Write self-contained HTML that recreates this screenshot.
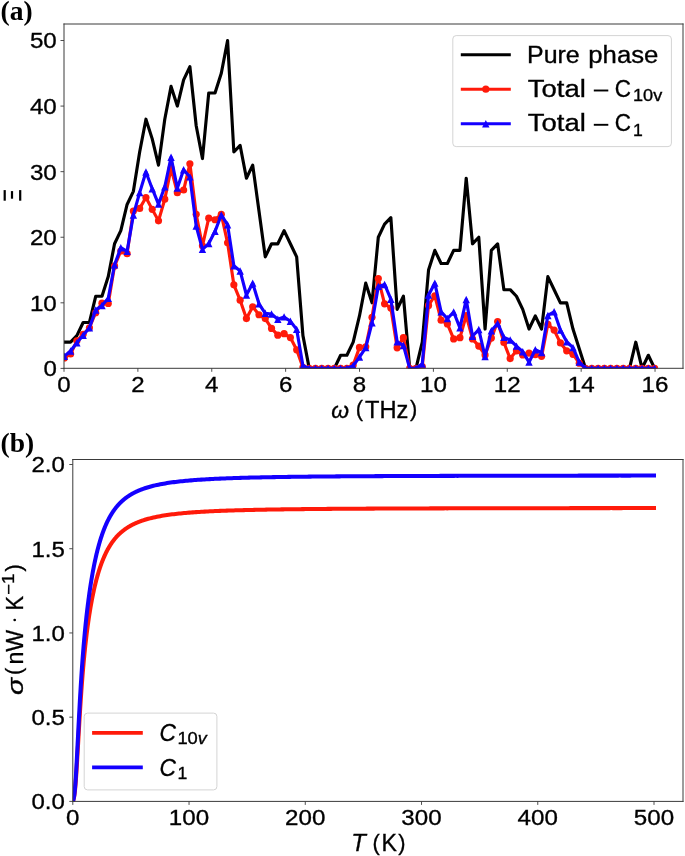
<!DOCTYPE html>
<html><head><meta charset="utf-8"><title>Figure</title>
<style>html,body{margin:0;padding:0;background:#fff;}body{width:685px;height:856px;overflow:hidden;font-family:"Liberation Sans",sans-serif;}svg{display:block;will-change:transform;}text.s{stroke:#000;stroke-width:0.32px;}</style>
</head><body>
<svg width="685" height="856" viewBox="0 0 685 856">
<rect width="685" height="856" fill="#fff"/>
<clipPath id="ca"><rect x="64.0" y="24.0" width="619.0" height="344.6"/></clipPath>
<g clip-path="url(#ca)">
<polyline points="64.30,342.17 70.58,342.17 76.86,335.61 83.14,322.49 89.42,322.49 95.70,296.26 101.98,296.26 108.26,276.59 114.54,243.80 120.82,230.68 127.10,204.45 133.38,191.33 139.66,151.99 145.94,119.20 152.22,138.87 158.50,165.10 164.78,119.20 171.06,86.41 177.34,106.08 183.62,79.85 189.90,66.73 196.18,125.75 202.46,158.54 208.74,92.96 215.02,92.96 221.30,73.29 227.58,40.50 233.86,151.99 240.14,145.43 246.42,178.22 252.70,165.10 258.98,211.01 265.26,256.91 271.54,243.80 277.82,243.80 284.10,230.68 290.38,243.80 296.66,256.91 302.94,335.61 309.22,368.40 315.50,368.40 321.78,368.40 328.06,368.40 334.34,368.40 340.62,355.28 346.90,355.28 353.18,342.17 359.46,315.94 365.74,283.15 372.02,302.82 378.30,237.24 384.58,224.12 390.86,217.57 397.14,309.38 403.42,296.26 409.70,368.40 415.98,368.40 422.26,342.17 428.54,270.03 434.82,250.36 441.10,263.47 447.38,263.47 453.66,250.36 459.94,250.36 466.22,178.22 472.50,243.80 478.78,237.24 485.06,329.05 491.34,250.36 497.62,243.80 503.90,289.70 510.18,289.70 516.46,296.26 522.74,309.38 529.02,329.05 535.30,315.94 541.58,329.05 547.86,276.59 554.14,289.70 560.42,302.82 566.70,302.82 572.98,329.05 579.26,348.73 585.54,368.40 591.82,368.40 598.10,368.40 604.38,368.40 610.66,368.40 616.94,368.40 623.22,368.40 629.50,368.40 635.78,342.17 642.06,368.40 648.34,355.28 654.62,368.40" fill="none" stroke="#000" stroke-width="3.15" stroke-linejoin="round" stroke-linecap="square" />
<polyline points="64.30,357.91 70.58,353.97 76.86,340.86 83.14,334.30 89.42,327.74 95.70,312.66 101.98,303.15 108.26,303.48 114.54,266.10 120.82,251.01 127.10,253.63 133.38,211.01 139.66,208.38 145.94,197.56 152.22,209.37 158.50,220.84 164.78,199.20 171.06,168.38 177.34,192.65 183.62,190.02 189.90,163.79 196.18,214.29 202.46,245.77 208.74,218.22 215.02,219.73 221.30,214.29 227.58,242.81 233.86,284.79 240.14,300.20 246.42,318.56 252.70,306.75 258.98,314.76 265.26,318.56 271.54,328.40 277.82,335.15 284.10,333.64 290.38,337.58 296.66,349.78 302.94,367.42 309.22,368.40 315.50,368.40 321.78,368.40 328.06,368.40 334.34,368.40 340.62,368.40 346.90,368.40 353.18,365.12 359.46,347.41 365.74,346.76 372.02,317.25 378.30,278.56 384.58,303.80 390.86,308.07 397.14,347.87 403.42,337.64 409.70,368.40 415.98,368.40 422.26,366.56 428.54,305.44 434.82,295.74 441.10,320.13 447.38,323.94 453.66,338.89 459.94,337.64 466.22,315.48 472.50,338.89 478.78,346.10 485.06,354.96 491.34,338.10 497.62,321.58 503.90,342.50 510.18,358.56 516.46,350.82 522.74,354.89 529.02,353.12 535.30,354.63 541.58,356.33 547.86,324.26 554.14,330.10 560.42,342.95 566.70,350.82 572.98,354.30 579.26,363.15 585.54,368.40 591.82,368.40 598.10,368.40 604.38,368.40 610.66,368.40 616.94,368.40 623.22,368.40 629.50,368.40 635.78,368.40 642.06,368.40 648.34,368.40 654.62,368.40" fill="none" stroke="#ff1a0a" stroke-width="3.15" stroke-linejoin="round" stroke-linecap="square" />
<circle cx="64.30" cy="357.91" r="3.6" fill="#ff1a0a"/>
<circle cx="70.58" cy="353.97" r="3.6" fill="#ff1a0a"/>
<circle cx="76.86" cy="340.86" r="3.6" fill="#ff1a0a"/>
<circle cx="83.14" cy="334.30" r="3.6" fill="#ff1a0a"/>
<circle cx="89.42" cy="327.74" r="3.6" fill="#ff1a0a"/>
<circle cx="95.70" cy="312.66" r="3.6" fill="#ff1a0a"/>
<circle cx="101.98" cy="303.15" r="3.6" fill="#ff1a0a"/>
<circle cx="108.26" cy="303.48" r="3.6" fill="#ff1a0a"/>
<circle cx="114.54" cy="266.10" r="3.6" fill="#ff1a0a"/>
<circle cx="120.82" cy="251.01" r="3.6" fill="#ff1a0a"/>
<circle cx="127.10" cy="253.63" r="3.6" fill="#ff1a0a"/>
<circle cx="133.38" cy="211.01" r="3.6" fill="#ff1a0a"/>
<circle cx="139.66" cy="208.38" r="3.6" fill="#ff1a0a"/>
<circle cx="145.94" cy="197.56" r="3.6" fill="#ff1a0a"/>
<circle cx="152.22" cy="209.37" r="3.6" fill="#ff1a0a"/>
<circle cx="158.50" cy="220.84" r="3.6" fill="#ff1a0a"/>
<circle cx="164.78" cy="199.20" r="3.6" fill="#ff1a0a"/>
<circle cx="171.06" cy="168.38" r="3.6" fill="#ff1a0a"/>
<circle cx="177.34" cy="192.65" r="3.6" fill="#ff1a0a"/>
<circle cx="183.62" cy="190.02" r="3.6" fill="#ff1a0a"/>
<circle cx="189.90" cy="163.79" r="3.6" fill="#ff1a0a"/>
<circle cx="196.18" cy="214.29" r="3.6" fill="#ff1a0a"/>
<circle cx="202.46" cy="245.77" r="3.6" fill="#ff1a0a"/>
<circle cx="208.74" cy="218.22" r="3.6" fill="#ff1a0a"/>
<circle cx="215.02" cy="219.73" r="3.6" fill="#ff1a0a"/>
<circle cx="221.30" cy="214.29" r="3.6" fill="#ff1a0a"/>
<circle cx="227.58" cy="242.81" r="3.6" fill="#ff1a0a"/>
<circle cx="233.86" cy="284.79" r="3.6" fill="#ff1a0a"/>
<circle cx="240.14" cy="300.20" r="3.6" fill="#ff1a0a"/>
<circle cx="246.42" cy="318.56" r="3.6" fill="#ff1a0a"/>
<circle cx="252.70" cy="306.75" r="3.6" fill="#ff1a0a"/>
<circle cx="258.98" cy="314.76" r="3.6" fill="#ff1a0a"/>
<circle cx="265.26" cy="318.56" r="3.6" fill="#ff1a0a"/>
<circle cx="271.54" cy="328.40" r="3.6" fill="#ff1a0a"/>
<circle cx="277.82" cy="335.15" r="3.6" fill="#ff1a0a"/>
<circle cx="284.10" cy="333.64" r="3.6" fill="#ff1a0a"/>
<circle cx="290.38" cy="337.58" r="3.6" fill="#ff1a0a"/>
<circle cx="296.66" cy="349.78" r="3.6" fill="#ff1a0a"/>
<circle cx="302.94" cy="367.42" r="3.6" fill="#ff1a0a"/>
<circle cx="309.22" cy="368.40" r="3.6" fill="#ff1a0a"/>
<circle cx="315.50" cy="368.40" r="3.6" fill="#ff1a0a"/>
<circle cx="321.78" cy="368.40" r="3.6" fill="#ff1a0a"/>
<circle cx="328.06" cy="368.40" r="3.6" fill="#ff1a0a"/>
<circle cx="334.34" cy="368.40" r="3.6" fill="#ff1a0a"/>
<circle cx="340.62" cy="368.40" r="3.6" fill="#ff1a0a"/>
<circle cx="346.90" cy="368.40" r="3.6" fill="#ff1a0a"/>
<circle cx="353.18" cy="365.12" r="3.6" fill="#ff1a0a"/>
<circle cx="359.46" cy="347.41" r="3.6" fill="#ff1a0a"/>
<circle cx="365.74" cy="346.76" r="3.6" fill="#ff1a0a"/>
<circle cx="372.02" cy="317.25" r="3.6" fill="#ff1a0a"/>
<circle cx="378.30" cy="278.56" r="3.6" fill="#ff1a0a"/>
<circle cx="384.58" cy="303.80" r="3.6" fill="#ff1a0a"/>
<circle cx="390.86" cy="308.07" r="3.6" fill="#ff1a0a"/>
<circle cx="397.14" cy="347.87" r="3.6" fill="#ff1a0a"/>
<circle cx="403.42" cy="337.64" r="3.6" fill="#ff1a0a"/>
<circle cx="409.70" cy="368.40" r="3.6" fill="#ff1a0a"/>
<circle cx="415.98" cy="368.40" r="3.6" fill="#ff1a0a"/>
<circle cx="422.26" cy="366.56" r="3.6" fill="#ff1a0a"/>
<circle cx="428.54" cy="305.44" r="3.6" fill="#ff1a0a"/>
<circle cx="434.82" cy="295.74" r="3.6" fill="#ff1a0a"/>
<circle cx="441.10" cy="320.13" r="3.6" fill="#ff1a0a"/>
<circle cx="447.38" cy="323.94" r="3.6" fill="#ff1a0a"/>
<circle cx="453.66" cy="338.89" r="3.6" fill="#ff1a0a"/>
<circle cx="459.94" cy="337.64" r="3.6" fill="#ff1a0a"/>
<circle cx="466.22" cy="315.48" r="3.6" fill="#ff1a0a"/>
<circle cx="472.50" cy="338.89" r="3.6" fill="#ff1a0a"/>
<circle cx="478.78" cy="346.10" r="3.6" fill="#ff1a0a"/>
<circle cx="485.06" cy="354.96" r="3.6" fill="#ff1a0a"/>
<circle cx="491.34" cy="338.10" r="3.6" fill="#ff1a0a"/>
<circle cx="497.62" cy="321.58" r="3.6" fill="#ff1a0a"/>
<circle cx="503.90" cy="342.50" r="3.6" fill="#ff1a0a"/>
<circle cx="510.18" cy="358.56" r="3.6" fill="#ff1a0a"/>
<circle cx="516.46" cy="350.82" r="3.6" fill="#ff1a0a"/>
<circle cx="522.74" cy="354.89" r="3.6" fill="#ff1a0a"/>
<circle cx="529.02" cy="353.12" r="3.6" fill="#ff1a0a"/>
<circle cx="535.30" cy="354.63" r="3.6" fill="#ff1a0a"/>
<circle cx="541.58" cy="356.33" r="3.6" fill="#ff1a0a"/>
<circle cx="547.86" cy="324.26" r="3.6" fill="#ff1a0a"/>
<circle cx="554.14" cy="330.10" r="3.6" fill="#ff1a0a"/>
<circle cx="560.42" cy="342.95" r="3.6" fill="#ff1a0a"/>
<circle cx="566.70" cy="350.82" r="3.6" fill="#ff1a0a"/>
<circle cx="572.98" cy="354.30" r="3.6" fill="#ff1a0a"/>
<circle cx="579.26" cy="363.15" r="3.6" fill="#ff1a0a"/>
<circle cx="585.54" cy="368.40" r="3.6" fill="#ff1a0a"/>
<circle cx="591.82" cy="368.40" r="3.6" fill="#ff1a0a"/>
<circle cx="598.10" cy="368.40" r="3.6" fill="#ff1a0a"/>
<circle cx="604.38" cy="368.40" r="3.6" fill="#ff1a0a"/>
<circle cx="610.66" cy="368.40" r="3.6" fill="#ff1a0a"/>
<circle cx="616.94" cy="368.40" r="3.6" fill="#ff1a0a"/>
<circle cx="623.22" cy="368.40" r="3.6" fill="#ff1a0a"/>
<circle cx="629.50" cy="368.40" r="3.6" fill="#ff1a0a"/>
<circle cx="635.78" cy="368.40" r="3.6" fill="#ff1a0a"/>
<circle cx="642.06" cy="368.40" r="3.6" fill="#ff1a0a"/>
<circle cx="648.34" cy="368.40" r="3.6" fill="#ff1a0a"/>
<circle cx="654.62" cy="368.40" r="3.6" fill="#ff1a0a"/>
<polyline points="64.30,356.27 70.58,351.02 76.86,342.82 83.14,335.22 89.42,327.74 95.70,310.03 101.98,305.44 108.26,298.23 114.54,264.78 120.82,247.73 127.10,251.34 133.38,214.94 139.66,192.65 145.94,171.99 152.22,188.71 158.50,204.12 164.78,186.74 171.06,157.23 177.34,188.05 183.62,169.69 189.90,176.91 196.18,226.09 202.46,249.37 208.74,243.54 215.02,231.34 221.30,214.94 227.58,224.78 233.86,265.83 240.14,270.95 246.42,295.02 252.70,283.15 258.98,303.80 265.26,313.31 271.54,313.97 277.82,319.21 284.10,316.92 290.38,321.31 296.66,329.38 302.94,365.78 309.22,368.40 315.50,368.40 321.78,368.40 328.06,368.40 334.34,368.40 340.62,368.40 346.90,368.40 353.18,365.78 359.46,357.05 365.74,347.61 372.02,322.76 378.30,286.42 384.58,284.46 390.86,299.21 397.14,341.77 403.42,345.45 409.70,368.40 415.98,368.40 422.26,363.94 428.54,295.02 434.82,283.15 441.10,311.80 447.38,318.56 453.66,312.00 459.94,327.87 466.22,299.54 472.50,336.27 478.78,329.51 485.06,356.60 491.34,330.82 497.62,323.48 503.90,337.38 510.18,340.00 516.46,346.10 522.74,351.68 529.02,362.17 535.30,349.78 541.58,352.66 547.86,315.48 554.14,311.80 560.42,330.10 566.70,341.77 572.98,347.61 579.26,362.17 585.54,368.40 591.82,368.40 598.10,368.40 604.38,368.40 610.66,368.40 616.94,368.40 623.22,368.40 629.50,368.40 635.78,368.40 642.06,368.40 648.34,368.40 654.62,368.40" fill="none" stroke="#1400ff" stroke-width="3.15" stroke-linejoin="round" stroke-linecap="square" />
<path d="M64.30,352.57 L60.60,359.97 L68.00,359.97 Z" fill="#1400ff"/>
<path d="M70.58,347.32 L66.88,354.72 L74.28,354.72 Z" fill="#1400ff"/>
<path d="M76.86,339.12 L73.16,346.52 L80.56,346.52 Z" fill="#1400ff"/>
<path d="M83.14,331.52 L79.44,338.92 L86.84,338.92 Z" fill="#1400ff"/>
<path d="M89.42,324.04 L85.72,331.44 L93.12,331.44 Z" fill="#1400ff"/>
<path d="M95.70,306.33 L92.00,313.73 L99.40,313.73 Z" fill="#1400ff"/>
<path d="M101.98,301.74 L98.28,309.14 L105.68,309.14 Z" fill="#1400ff"/>
<path d="M108.26,294.53 L104.56,301.93 L111.96,301.93 Z" fill="#1400ff"/>
<path d="M114.54,261.08 L110.84,268.48 L118.24,268.48 Z" fill="#1400ff"/>
<path d="M120.82,244.03 L117.12,251.43 L124.52,251.43 Z" fill="#1400ff"/>
<path d="M127.10,247.64 L123.40,255.04 L130.80,255.04 Z" fill="#1400ff"/>
<path d="M133.38,211.24 L129.68,218.64 L137.08,218.64 Z" fill="#1400ff"/>
<path d="M139.66,188.95 L135.96,196.35 L143.36,196.35 Z" fill="#1400ff"/>
<path d="M145.94,168.29 L142.24,175.69 L149.64,175.69 Z" fill="#1400ff"/>
<path d="M152.22,185.01 L148.52,192.41 L155.92,192.41 Z" fill="#1400ff"/>
<path d="M158.50,200.42 L154.80,207.82 L162.20,207.82 Z" fill="#1400ff"/>
<path d="M164.78,183.04 L161.08,190.44 L168.48,190.44 Z" fill="#1400ff"/>
<path d="M171.06,153.53 L167.36,160.93 L174.76,160.93 Z" fill="#1400ff"/>
<path d="M177.34,184.35 L173.64,191.75 L181.04,191.75 Z" fill="#1400ff"/>
<path d="M183.62,165.99 L179.92,173.39 L187.32,173.39 Z" fill="#1400ff"/>
<path d="M189.90,173.21 L186.20,180.61 L193.60,180.61 Z" fill="#1400ff"/>
<path d="M196.18,222.39 L192.48,229.79 L199.88,229.79 Z" fill="#1400ff"/>
<path d="M202.46,245.67 L198.76,253.07 L206.16,253.07 Z" fill="#1400ff"/>
<path d="M208.74,239.84 L205.04,247.24 L212.44,247.24 Z" fill="#1400ff"/>
<path d="M215.02,227.64 L211.32,235.04 L218.72,235.04 Z" fill="#1400ff"/>
<path d="M221.30,211.24 L217.60,218.64 L225.00,218.64 Z" fill="#1400ff"/>
<path d="M227.58,221.08 L223.88,228.48 L231.28,228.48 Z" fill="#1400ff"/>
<path d="M233.86,262.13 L230.16,269.53 L237.56,269.53 Z" fill="#1400ff"/>
<path d="M240.14,267.25 L236.44,274.65 L243.84,274.65 Z" fill="#1400ff"/>
<path d="M246.42,291.32 L242.72,298.72 L250.12,298.72 Z" fill="#1400ff"/>
<path d="M252.70,279.45 L249.00,286.85 L256.40,286.85 Z" fill="#1400ff"/>
<path d="M258.98,300.10 L255.28,307.50 L262.68,307.50 Z" fill="#1400ff"/>
<path d="M265.26,309.61 L261.56,317.01 L268.96,317.01 Z" fill="#1400ff"/>
<path d="M271.54,310.27 L267.84,317.67 L275.24,317.67 Z" fill="#1400ff"/>
<path d="M277.82,315.51 L274.12,322.91 L281.52,322.91 Z" fill="#1400ff"/>
<path d="M284.10,313.22 L280.40,320.62 L287.80,320.62 Z" fill="#1400ff"/>
<path d="M290.38,317.61 L286.68,325.01 L294.08,325.01 Z" fill="#1400ff"/>
<path d="M296.66,325.68 L292.96,333.08 L300.36,333.08 Z" fill="#1400ff"/>
<path d="M302.94,362.08 L299.24,369.48 L306.64,369.48 Z" fill="#1400ff"/>
<path d="M309.22,364.70 L305.52,372.10 L312.92,372.10 Z" fill="#1400ff"/>
<path d="M315.50,364.70 L311.80,372.10 L319.20,372.10 Z" fill="#1400ff"/>
<path d="M321.78,364.70 L318.08,372.10 L325.48,372.10 Z" fill="#1400ff"/>
<path d="M328.06,364.70 L324.36,372.10 L331.76,372.10 Z" fill="#1400ff"/>
<path d="M334.34,364.70 L330.64,372.10 L338.04,372.10 Z" fill="#1400ff"/>
<path d="M340.62,364.70 L336.92,372.10 L344.32,372.10 Z" fill="#1400ff"/>
<path d="M346.90,364.70 L343.20,372.10 L350.60,372.10 Z" fill="#1400ff"/>
<path d="M353.18,362.08 L349.48,369.48 L356.88,369.48 Z" fill="#1400ff"/>
<path d="M359.46,353.35 L355.76,360.75 L363.16,360.75 Z" fill="#1400ff"/>
<path d="M365.74,343.91 L362.04,351.31 L369.44,351.31 Z" fill="#1400ff"/>
<path d="M372.02,319.06 L368.32,326.46 L375.72,326.46 Z" fill="#1400ff"/>
<path d="M378.30,282.72 L374.60,290.12 L382.00,290.12 Z" fill="#1400ff"/>
<path d="M384.58,280.76 L380.88,288.16 L388.28,288.16 Z" fill="#1400ff"/>
<path d="M390.86,295.51 L387.16,302.91 L394.56,302.91 Z" fill="#1400ff"/>
<path d="M397.14,338.07 L393.44,345.47 L400.84,345.47 Z" fill="#1400ff"/>
<path d="M403.42,341.75 L399.72,349.15 L407.12,349.15 Z" fill="#1400ff"/>
<path d="M409.70,364.70 L406.00,372.10 L413.40,372.10 Z" fill="#1400ff"/>
<path d="M415.98,364.70 L412.28,372.10 L419.68,372.10 Z" fill="#1400ff"/>
<path d="M422.26,360.24 L418.56,367.64 L425.96,367.64 Z" fill="#1400ff"/>
<path d="M428.54,291.32 L424.84,298.72 L432.24,298.72 Z" fill="#1400ff"/>
<path d="M434.82,279.45 L431.12,286.85 L438.52,286.85 Z" fill="#1400ff"/>
<path d="M441.10,308.10 L437.40,315.50 L444.80,315.50 Z" fill="#1400ff"/>
<path d="M447.38,314.86 L443.68,322.26 L451.08,322.26 Z" fill="#1400ff"/>
<path d="M453.66,308.30 L449.96,315.70 L457.36,315.70 Z" fill="#1400ff"/>
<path d="M459.94,324.17 L456.24,331.57 L463.64,331.57 Z" fill="#1400ff"/>
<path d="M466.22,295.84 L462.52,303.24 L469.92,303.24 Z" fill="#1400ff"/>
<path d="M472.50,332.57 L468.80,339.97 L476.20,339.97 Z" fill="#1400ff"/>
<path d="M478.78,325.81 L475.08,333.21 L482.48,333.21 Z" fill="#1400ff"/>
<path d="M485.06,352.90 L481.36,360.30 L488.76,360.30 Z" fill="#1400ff"/>
<path d="M491.34,327.12 L487.64,334.52 L495.04,334.52 Z" fill="#1400ff"/>
<path d="M497.62,319.78 L493.92,327.18 L501.32,327.18 Z" fill="#1400ff"/>
<path d="M503.90,333.68 L500.20,341.08 L507.60,341.08 Z" fill="#1400ff"/>
<path d="M510.18,336.30 L506.48,343.70 L513.88,343.70 Z" fill="#1400ff"/>
<path d="M516.46,342.40 L512.76,349.80 L520.16,349.80 Z" fill="#1400ff"/>
<path d="M522.74,347.98 L519.04,355.38 L526.44,355.38 Z" fill="#1400ff"/>
<path d="M529.02,358.47 L525.32,365.87 L532.72,365.87 Z" fill="#1400ff"/>
<path d="M535.30,346.08 L531.60,353.48 L539.00,353.48 Z" fill="#1400ff"/>
<path d="M541.58,348.96 L537.88,356.36 L545.28,356.36 Z" fill="#1400ff"/>
<path d="M547.86,311.78 L544.16,319.18 L551.56,319.18 Z" fill="#1400ff"/>
<path d="M554.14,308.10 L550.44,315.50 L557.84,315.50 Z" fill="#1400ff"/>
<path d="M560.42,326.40 L556.72,333.80 L564.12,333.80 Z" fill="#1400ff"/>
<path d="M566.70,338.07 L563.00,345.47 L570.40,345.47 Z" fill="#1400ff"/>
<path d="M572.98,343.91 L569.28,351.31 L576.68,351.31 Z" fill="#1400ff"/>
<path d="M579.26,358.47 L575.56,365.87 L582.96,365.87 Z" fill="#1400ff"/>
<path d="M585.54,364.70 L581.84,372.10 L589.24,372.10 Z" fill="#1400ff"/>
<path d="M591.82,364.70 L588.12,372.10 L595.52,372.10 Z" fill="#1400ff"/>
<path d="M598.10,364.70 L594.40,372.10 L601.80,372.10 Z" fill="#1400ff"/>
<path d="M604.38,364.70 L600.68,372.10 L608.08,372.10 Z" fill="#1400ff"/>
<path d="M610.66,364.70 L606.96,372.10 L614.36,372.10 Z" fill="#1400ff"/>
<path d="M616.94,364.70 L613.24,372.10 L620.64,372.10 Z" fill="#1400ff"/>
<path d="M623.22,364.70 L619.52,372.10 L626.92,372.10 Z" fill="#1400ff"/>
<path d="M629.50,364.70 L625.80,372.10 L633.20,372.10 Z" fill="#1400ff"/>
<path d="M635.78,364.70 L632.08,372.10 L639.48,372.10 Z" fill="#1400ff"/>
<path d="M642.06,364.70 L638.36,372.10 L645.76,372.10 Z" fill="#1400ff"/>
<path d="M648.34,364.70 L644.64,372.10 L652.04,372.10 Z" fill="#1400ff"/>
<path d="M654.62,364.70 L650.92,372.10 L658.32,372.10 Z" fill="#1400ff"/>
</g>
<path d="M64.0,23.5 V368.8 M683.0,23.5 V368.8 M63.5,24.0 H683.5 M63.5,368.3 H683.5" fill="none" stroke="#3a3a3a" stroke-width="1.0"/>
<line x1="64.00" y1="368.3" x2="64.00" y2="371.8" stroke="#3a3a3a" stroke-width="0.9"/>
<text class="s" x="64.00" y="391.90" font-family="Liberation Sans, sans-serif" font-size="22.0" text-anchor="middle" fill="#000" textLength="13.4" lengthAdjust="spacingAndGlyphs" >0</text>
<line x1="137.88" y1="368.3" x2="137.88" y2="371.8" stroke="#3a3a3a" stroke-width="0.9"/>
<text class="s" x="137.88" y="391.90" font-family="Liberation Sans, sans-serif" font-size="22.0" text-anchor="middle" fill="#000" textLength="13.4" lengthAdjust="spacingAndGlyphs" >2</text>
<line x1="211.76" y1="368.3" x2="211.76" y2="371.8" stroke="#3a3a3a" stroke-width="0.9"/>
<text class="s" x="211.76" y="391.90" font-family="Liberation Sans, sans-serif" font-size="22.0" text-anchor="middle" fill="#000" textLength="13.4" lengthAdjust="spacingAndGlyphs" >4</text>
<line x1="285.64" y1="368.3" x2="285.64" y2="371.8" stroke="#3a3a3a" stroke-width="0.9"/>
<text class="s" x="285.64" y="391.90" font-family="Liberation Sans, sans-serif" font-size="22.0" text-anchor="middle" fill="#000" textLength="13.4" lengthAdjust="spacingAndGlyphs" >6</text>
<line x1="359.52" y1="368.3" x2="359.52" y2="371.8" stroke="#3a3a3a" stroke-width="0.9"/>
<text class="s" x="359.52" y="391.90" font-family="Liberation Sans, sans-serif" font-size="22.0" text-anchor="middle" fill="#000" textLength="13.4" lengthAdjust="spacingAndGlyphs" >8</text>
<line x1="433.40" y1="368.3" x2="433.40" y2="371.8" stroke="#3a3a3a" stroke-width="0.9"/>
<text class="s" x="433.40" y="391.90" font-family="Liberation Sans, sans-serif" font-size="22.0" text-anchor="middle" fill="#000" textLength="26.9" lengthAdjust="spacingAndGlyphs" >10</text>
<line x1="507.28" y1="368.3" x2="507.28" y2="371.8" stroke="#3a3a3a" stroke-width="0.9"/>
<text class="s" x="507.28" y="391.90" font-family="Liberation Sans, sans-serif" font-size="22.0" text-anchor="middle" fill="#000" textLength="26.9" lengthAdjust="spacingAndGlyphs" >12</text>
<line x1="581.16" y1="368.3" x2="581.16" y2="371.8" stroke="#3a3a3a" stroke-width="0.9"/>
<text class="s" x="581.16" y="391.90" font-family="Liberation Sans, sans-serif" font-size="22.0" text-anchor="middle" fill="#000" textLength="26.9" lengthAdjust="spacingAndGlyphs" >14</text>
<line x1="655.04" y1="368.3" x2="655.04" y2="371.8" stroke="#3a3a3a" stroke-width="0.9"/>
<text class="s" x="655.04" y="391.90" font-family="Liberation Sans, sans-serif" font-size="22.0" text-anchor="middle" fill="#000" textLength="26.9" lengthAdjust="spacingAndGlyphs" >16</text>
<line x1="60.5" y1="368.40" x2="64.0" y2="368.40" stroke="#3a3a3a" stroke-width="0.9"/>
<text class="s" x="56.80" y="376.30" font-family="Liberation Sans, sans-serif" font-size="22.0" text-anchor="end" fill="#000" textLength="13.4" lengthAdjust="spacingAndGlyphs" >0</text>
<line x1="60.5" y1="302.82" x2="64.0" y2="302.82" stroke="#3a3a3a" stroke-width="0.9"/>
<text class="s" x="56.80" y="310.72" font-family="Liberation Sans, sans-serif" font-size="22.0" text-anchor="end" fill="#000" textLength="26.9" lengthAdjust="spacingAndGlyphs" >10</text>
<line x1="60.5" y1="237.24" x2="64.0" y2="237.24" stroke="#3a3a3a" stroke-width="0.9"/>
<text class="s" x="56.80" y="245.14" font-family="Liberation Sans, sans-serif" font-size="22.0" text-anchor="end" fill="#000" textLength="26.9" lengthAdjust="spacingAndGlyphs" >20</text>
<line x1="60.5" y1="171.66" x2="64.0" y2="171.66" stroke="#3a3a3a" stroke-width="0.9"/>
<text class="s" x="56.80" y="179.56" font-family="Liberation Sans, sans-serif" font-size="22.0" text-anchor="end" fill="#000" textLength="26.9" lengthAdjust="spacingAndGlyphs" >30</text>
<line x1="60.5" y1="106.08" x2="64.0" y2="106.08" stroke="#3a3a3a" stroke-width="0.9"/>
<text class="s" x="56.80" y="113.98" font-family="Liberation Sans, sans-serif" font-size="22.0" text-anchor="end" fill="#000" textLength="26.9" lengthAdjust="spacingAndGlyphs" >40</text>
<line x1="60.5" y1="40.50" x2="64.0" y2="40.50" stroke="#3a3a3a" stroke-width="0.9"/>
<text class="s" x="56.80" y="48.40" font-family="Liberation Sans, sans-serif" font-size="22.0" text-anchor="end" fill="#000" textLength="26.9" lengthAdjust="spacingAndGlyphs" >50</text>
<rect x="3.6" y="190.1" width="2.2" height="10.6" fill="#000"/>
<rect x="10.9" y="191.1" width="2.2" height="7.6" fill="#000"/>
<rect x="19.1" y="190.1" width="2.2" height="10.6" fill="#000"/>
<text class="s" x="331.2" y="417.7" font-family="Liberation Sans, sans-serif" font-size="23.0" fill="#000" font-style="italic" textLength="17.8" lengthAdjust="spacingAndGlyphs">ω</text>
<text class="s" x="355.8" y="416.3" font-family="Liberation Sans, sans-serif" font-size="21.8" fill="#000">(</text>
<text class="s" x="365.0" y="417.7" font-family="Liberation Sans, sans-serif" font-size="23.0" fill="#000" textLength="43.4" lengthAdjust="spacingAndGlyphs">THz</text>
<text class="s" x="410.1" y="416.3" font-family="Liberation Sans, sans-serif" font-size="21.8" fill="#000">)</text>
<text x="0.6" y="20.0" font-family="Liberation Serif, serif" font-weight="bold" font-size="27.5" fill="#000">(a)</text>
<text x="0.6" y="452.4" font-family="Liberation Serif, serif" font-weight="bold" font-size="27.5" fill="#000">(b)</text>
<rect x="452.8" y="35.6" width="218.6" height="111" rx="3.4" fill="#fff" fill-opacity="0.8" stroke="#d4d4d4" stroke-width="1"/>
<line x1="460.8" y1="54.75" x2="510.8" y2="54.75" stroke="#000" stroke-width="3.15"/>
<line x1="460.8" y1="89.2" x2="510.8" y2="89.2" stroke="#ff1a0a" stroke-width="3.15"/>
<line x1="460.8" y1="123.75" x2="510.8" y2="123.75" stroke="#1400ff" stroke-width="3.15"/>
<circle cx="485.8" cy="89.2" r="3.6" fill="#ff1a0a"/>
<path d="M485.80,120.05 L482.10,127.45 L489.50,127.45 Z" fill="#1400ff"/>
<text class="s" x="527.00" y="62.60" font-family="Liberation Sans, sans-serif" font-size="23.0" text-anchor="start" fill="#000" textLength="52.7" lengthAdjust="spacingAndGlyphs" >Pure</text>
<text class="s" x="588.30" y="62.60" font-family="Liberation Sans, sans-serif" font-size="23.0" text-anchor="start" fill="#000" textLength="70.1" lengthAdjust="spacingAndGlyphs" >phase</text>
<text class="s" x="527.8" y="96.9" font-family="Liberation Sans, sans-serif" font-size="23.0" fill="#000"><tspan textLength="58" lengthAdjust="spacingAndGlyphs">Total</tspan><tspan x="614.8" textLength="16.2" lengthAdjust="spacingAndGlyphs">C</tspan><tspan x="633.0" dy="4.3" font-size="16.1" textLength="29.2" lengthAdjust="spacingAndGlyphs">10v</tspan></text><rect x="593.8" y="89.55" width="14.5" height="1.9" fill="#000"/>
<text class="s" x="527.8" y="131.2" font-family="Liberation Sans, sans-serif" font-size="23.0" fill="#000"><tspan textLength="58" lengthAdjust="spacingAndGlyphs">Total</tspan><tspan x="614.8" textLength="16.2" lengthAdjust="spacingAndGlyphs">C</tspan><tspan x="633.0" dy="4.3" font-size="16.1" textLength="9.8" lengthAdjust="spacingAndGlyphs">1</tspan></text><rect x="593.8" y="123.85" width="14.5" height="1.9" fill="#000"/>
<clipPath id="cb"><rect x="72.8" y="459.5" width="610.2" height="342.4"/></clipPath>
<g clip-path="url(#cb)">
<polyline points="73.50,799.58 73.73,798.70 73.96,797.64 74.19,796.37 74.42,794.88 74.65,793.16 74.88,791.17 75.11,788.94 75.34,786.45 75.58,783.72 75.81,780.76 76.04,777.59 76.27,774.24 76.50,770.72 76.73,767.07 76.96,763.29 77.19,759.42 77.42,755.48 77.65,751.48 77.89,747.45 78.12,743.40 78.35,739.34 78.58,735.31 78.81,731.29 79.04,727.31 79.27,723.38 79.50,719.50 79.73,715.69 79.96,711.93 80.19,708.25 80.43,704.64 80.66,701.11 80.89,697.65 81.12,694.27 81.35,690.97 81.58,687.75 81.81,684.61 82.04,681.55 82.27,678.56 82.50,675.65 82.73,672.81 82.97,670.04 83.20,667.34 83.43,664.71 83.66,662.14 83.89,659.64 84.12,657.19 84.35,654.81 84.58,652.49 84.81,650.22 85.04,648.01 85.27,645.84 85.51,643.73 85.74,641.67 85.97,639.65 86.20,637.68 86.43,635.75 86.66,633.86 86.89,632.01 87.12,630.20 87.35,628.43 87.58,626.70 87.81,625.00 88.05,623.34 88.28,621.71 88.51,620.11 88.74,618.54 88.97,617.01 89.20,615.50 89.43,614.02 89.66,612.57 89.89,611.14 90.12,609.74 90.35,608.37 90.59,607.02 90.82,605.70 91.05,604.40 91.28,603.12 91.51,601.87 91.74,600.63 91.97,599.42 92.20,598.23 92.43,597.06 92.66,595.91 92.90,594.77 93.13,593.66 93.36,592.57 93.59,591.49 93.82,590.43 94.05,589.39 94.28,588.37 94.51,587.36 94.74,586.37 94.97,585.39 95.20,584.43 95.44,583.49 95.67,582.56 95.90,581.65 96.13,580.75 96.36,579.86 96.59,578.99 96.82,578.13 97.05,577.29 97.28,576.46 97.51,575.64 97.74,574.84 97.98,574.04 98.21,573.26 98.44,572.49 98.67,571.74 98.90,570.99 99.13,570.26 99.36,569.53 99.59,568.82 99.82,568.12 100.05,567.43 100.28,566.75 100.52,566.08 100.75,565.42 100.98,564.77 101.21,564.13 101.44,563.50 101.67,562.88 101.90,562.27 102.13,561.67 102.36,561.07 102.59,560.49 102.82,559.91 103.06,559.34 103.29,558.78 103.52,558.23 103.75,557.68 103.98,557.15 104.21,556.62 104.44,556.10 104.67,555.59 104.90,555.08 105.13,554.58 105.37,554.09 105.60,553.61 105.83,553.13 106.06,552.66 106.29,552.19 106.52,551.73 106.75,551.28 106.98,550.84 107.21,550.40 107.44,549.97 107.67,549.54 107.91,549.12 108.14,548.70 108.37,548.29 108.60,547.89 108.83,547.49 109.06,547.10 109.29,546.71 109.52,546.33 109.75,545.95 109.98,545.58 110.21,545.21 110.45,544.85 110.68,544.49 110.91,544.14 111.14,543.79 111.37,543.45 111.60,543.11 111.83,542.78 112.06,542.45 112.29,542.12 112.52,541.80 112.75,541.48 112.99,541.17 113.22,540.86 113.45,540.56 113.68,540.26 113.91,539.96 114.14,539.67 114.37,539.38 114.60,539.09 114.83,538.81 115.06,538.53 115.29,538.25 115.53,537.98 115.76,537.71 115.99,537.45 116.22,537.19 116.45,536.93 116.68,536.67 116.91,536.42 117.14,536.17 117.37,535.93 117.60,535.68 117.84,535.44 118.07,535.21 118.30,534.97 118.53,534.74 118.76,534.51 118.99,534.29 119.22,534.06 119.45,533.84 119.68,533.62 119.91,533.41 120.14,533.20 120.38,532.99 120.61,532.78 120.84,532.57 121.07,532.37 121.30,532.17 121.53,531.97 121.76,531.78 121.99,531.58 122.22,531.39 122.45,531.20 122.68,531.01 122.92,530.83 123.15,530.65 123.38,530.47 123.61,530.29 123.84,530.11 124.07,529.94 124.30,529.76 124.53,529.59 124.76,529.42 124.99,529.26 125.22,529.09 125.46,528.93 125.69,528.77 125.92,528.61 126.15,528.45 126.38,528.29 126.61,528.14 126.84,527.99 127.07,527.83 127.30,527.68 127.53,527.54 127.76,527.39 128.00,527.24 128.23,527.10 128.46,526.96 128.69,526.82 128.92,526.68 129.15,526.54 129.38,526.41 129.61,526.27 129.84,526.14 130.07,526.01 130.30,525.88 130.54,525.75 130.77,525.62 131.00,525.49 131.23,525.37 131.46,525.25 131.69,525.12 131.92,525.00 132.15,524.88 132.38,524.76 132.61,524.65 132.85,524.53 133.08,524.41 133.31,524.30 133.54,524.19 133.77,524.07 134.00,523.96 134.23,523.85 134.46,523.75 134.69,523.64 134.92,523.53 135.15,523.43 135.39,523.32 135.62,523.22 135.85,523.12 136.08,523.02 136.31,522.91 136.54,522.82 136.77,522.72 137.00,522.62 137.23,522.52 137.46,522.43 137.69,522.33 137.93,522.24 138.16,522.15 138.39,522.05 138.62,521.96 138.85,521.87 139.08,521.78 139.31,521.69 139.54,521.61 139.77,521.52 140.00,521.43 140.23,521.35 140.47,521.26 140.70,521.18 140.93,521.09 141.16,521.01 141.39,520.93 141.62,520.85 141.85,520.77 142.08,520.69 142.31,520.61 142.54,520.53 143.13,520.34 144.83,519.80 146.54,519.29 148.25,518.81 149.96,518.36 151.67,517.93 153.38,517.54 155.09,517.16 156.79,516.81 158.50,516.47 160.21,516.15 161.92,515.85 163.63,515.57 165.34,515.30 167.05,515.04 168.75,514.80 170.46,514.57 172.17,514.35 173.88,514.14 175.59,513.94 177.30,513.75 179.01,513.57 180.71,513.40 182.42,513.23 184.13,513.07 185.84,512.92 187.55,512.78 189.26,512.64 190.97,512.51 192.67,512.38 194.38,512.26 196.09,512.14 197.80,512.03 199.51,511.92 201.22,511.81 202.93,511.71 204.64,511.62 206.34,511.52 208.05,511.43 209.76,511.35 211.47,511.26 213.18,511.18 214.89,511.10 216.60,511.03 218.30,510.96 220.01,510.89 221.72,510.82 223.43,510.75 225.14,510.69 226.85,510.63 228.56,510.57 230.26,510.51 231.97,510.46 233.68,510.40 235.39,510.35 237.10,510.30 238.81,510.25 240.52,510.21 242.22,510.16 243.93,510.11 245.64,510.07 247.35,510.03 249.06,509.99 250.77,509.95 252.48,509.91 254.18,509.87 255.89,509.84 257.60,509.80 259.31,509.76 261.02,509.73 262.73,509.70 264.44,509.67 266.15,509.63 267.85,509.60 269.56,509.57 271.27,509.55 272.98,509.52 274.69,509.49 276.40,509.46 278.11,509.44 279.81,509.41 281.52,509.39 283.23,509.36 284.94,509.34 286.65,509.32 288.36,509.29 290.07,509.27 291.77,509.25 293.48,509.23 295.19,509.21 296.90,509.19 298.61,509.17 300.32,509.15 302.03,509.13 303.73,509.11 305.44,509.09 307.15,509.08 308.86,509.06 310.57,509.04 312.28,509.03 313.99,509.01 315.69,508.99 317.40,508.98 319.11,508.96 320.82,508.95 322.53,508.93 324.24,508.92 325.95,508.91 327.66,508.89 329.36,508.88 331.07,508.87 332.78,508.85 334.49,508.84 336.20,508.83 337.91,508.82 339.62,508.80 341.32,508.79 343.03,508.78 344.74,508.77 346.45,508.76 348.16,508.75 349.87,508.74 351.58,508.73 353.28,508.72 354.99,508.71 356.70,508.70 358.41,508.69 360.12,508.68 361.83,508.67 363.54,508.66 365.24,508.65 366.95,508.64 368.66,508.63 370.37,508.62 372.08,508.61 373.79,508.61 375.50,508.60 377.20,508.59 378.91,508.58 380.62,508.57 382.33,508.57 384.04,508.56 385.75,508.55 387.46,508.54 389.17,508.54 390.87,508.53 392.58,508.52 394.29,508.52 396.00,508.51 397.71,508.50 399.42,508.50 401.13,508.49 402.83,508.48 404.54,508.48 406.25,508.47 407.96,508.47 409.67,508.46 411.38,508.45 413.09,508.45 414.79,508.44 416.50,508.44 418.21,508.43 419.92,508.43 421.63,508.42 423.34,508.41 425.05,508.41 426.75,508.40 428.46,508.40 430.17,508.39 431.88,508.39 433.59,508.38 435.30,508.38 437.01,508.38 438.71,508.37 440.42,508.37 442.13,508.36 443.84,508.36 445.55,508.35 447.26,508.35 448.97,508.34 450.68,508.34 452.38,508.34 454.09,508.33 455.80,508.33 457.51,508.32 459.22,508.32 460.93,508.32 462.64,508.31 464.34,508.31 466.05,508.30 467.76,508.30 469.47,508.30 471.18,508.29 472.89,508.29 474.60,508.29 476.30,508.28 478.01,508.28 479.72,508.28 481.43,508.27 483.14,508.27 484.85,508.27 486.56,508.26 488.26,508.26 489.97,508.26 491.68,508.25 493.39,508.25 495.10,508.25 496.81,508.24 498.52,508.24 500.22,508.24 501.93,508.24 503.64,508.23 505.35,508.23 507.06,508.23 508.77,508.22 510.48,508.22 512.19,508.22 513.89,508.22 515.60,508.21 517.31,508.21 519.02,508.21 520.73,508.21 522.44,508.20 524.15,508.20 525.85,508.20 527.56,508.20 529.27,508.19 530.98,508.19 532.69,508.19 534.40,508.19 536.11,508.18 537.81,508.18 539.52,508.18 541.23,508.18 542.94,508.18 544.65,508.17 546.36,508.17 548.07,508.17 549.77,508.17 551.48,508.17 553.19,508.16 554.90,508.16 556.61,508.16 558.32,508.16 560.03,508.16 561.73,508.15 563.44,508.15 565.15,508.15 566.86,508.15 568.57,508.15 570.28,508.14 571.99,508.14 573.70,508.14 575.40,508.14 577.11,508.14 578.82,508.13 580.53,508.13 582.24,508.13 583.95,508.13 585.66,508.13 587.36,508.13 589.07,508.12 590.78,508.12 592.49,508.12 594.20,508.12 595.91,508.12 597.62,508.12 599.32,508.12 601.03,508.11 602.74,508.11 604.45,508.11 606.16,508.11 607.87,508.11 609.58,508.11 611.28,508.10 612.99,508.10 614.70,508.10 616.41,508.10 618.12,508.10 619.83,508.10 621.54,508.10 623.24,508.09 624.95,508.09 626.66,508.09 628.37,508.09 630.08,508.09 631.79,508.09 633.50,508.09 635.21,508.09 636.91,508.08 638.62,508.08 640.33,508.08 642.04,508.08 643.75,508.08 645.46,508.08 647.17,508.08 648.87,508.08 650.58,508.07 652.29,508.07 654.00,508.07" fill="none" stroke="#ff1a0a" stroke-width="4.05" stroke-linejoin="round" stroke-linecap="square" />
<polyline points="73.50,799.22 73.73,798.25 73.96,797.05 74.19,795.61 74.42,793.89 74.65,791.88 74.88,789.56 75.11,786.92 75.34,783.98 75.58,780.76 75.81,777.27 76.04,773.54 76.27,769.61 76.50,765.50 76.73,761.25 76.96,756.89 77.19,752.43 77.42,747.92 77.65,743.38 77.89,738.81 78.12,734.25 78.35,729.71 78.58,725.21 78.81,720.75 79.04,716.35 79.27,712.01 79.50,707.75 79.73,703.56 79.96,699.46 80.19,695.45 80.43,691.52 80.66,687.68 80.89,683.93 81.12,680.27 81.35,676.69 81.58,673.21 81.81,669.81 82.04,666.50 82.27,663.28 82.50,660.13 82.73,657.06 82.97,654.07 83.20,651.15 83.43,648.31 83.66,645.53 83.89,642.82 84.12,640.18 84.35,637.59 84.58,635.07 84.81,632.61 85.04,630.20 85.27,627.85 85.51,625.55 85.74,623.29 85.97,621.09 86.20,618.94 86.43,616.83 86.66,614.76 86.89,612.73 87.12,610.75 87.35,608.80 87.58,606.90 87.81,605.03 88.05,603.20 88.28,601.40 88.51,599.63 88.74,597.90 88.97,596.20 89.20,594.53 89.43,592.89 89.66,591.28 89.89,589.70 90.12,588.15 90.35,586.63 90.59,585.13 90.82,583.65 91.05,582.21 91.28,580.78 91.51,579.38 91.74,578.01 91.97,576.66 92.20,575.33 92.43,574.02 92.66,572.74 92.90,571.47 93.13,570.23 93.36,569.01 93.59,567.80 93.82,566.62 94.05,565.46 94.28,564.31 94.51,563.18 94.74,562.08 94.97,560.99 95.20,559.91 95.44,558.86 95.67,557.82 95.90,556.79 96.13,555.79 96.36,554.80 96.59,553.82 96.82,552.86 97.05,551.92 97.28,550.99 97.51,550.07 97.74,549.17 97.98,548.29 98.21,547.41 98.44,546.55 98.67,545.71 98.90,544.87 99.13,544.05 99.36,543.24 99.59,542.45 99.82,541.67 100.05,540.89 100.28,540.14 100.52,539.39 100.75,538.65 100.98,537.93 101.21,537.21 101.44,536.51 101.67,535.81 101.90,535.13 102.13,534.46 102.36,533.80 102.59,533.14 102.82,532.50 103.06,531.87 103.29,531.24 103.52,530.63 103.75,530.02 103.98,529.43 104.21,528.84 104.44,528.26 104.67,527.69 104.90,527.12 105.13,526.57 105.37,526.02 105.60,525.48 105.83,524.95 106.06,524.43 106.29,523.91 106.52,523.40 106.75,522.90 106.98,522.41 107.21,521.92 107.44,521.44 107.67,520.97 107.91,520.50 108.14,520.04 108.37,519.59 108.60,519.14 108.83,518.70 109.06,518.26 109.29,517.83 109.52,517.41 109.75,516.99 109.98,516.58 110.21,516.17 110.45,515.77 110.68,515.38 110.91,514.99 111.14,514.60 111.37,514.22 111.60,513.85 111.83,513.48 112.06,513.11 112.29,512.75 112.52,512.40 112.75,512.05 112.99,511.70 113.22,511.36 113.45,511.03 113.68,510.69 113.91,510.37 114.14,510.04 114.37,509.72 114.60,509.41 114.83,509.10 115.06,508.79 115.29,508.48 115.53,508.19 115.76,507.89 115.99,507.60 116.22,507.31 116.45,507.02 116.68,506.74 116.91,506.47 117.14,506.19 117.37,505.92 117.60,505.65 117.84,505.39 118.07,505.13 118.30,504.87 118.53,504.62 118.76,504.37 118.99,504.12 119.22,503.87 119.45,503.63 119.68,503.39 119.91,503.15 120.14,502.92 120.38,502.69 120.61,502.46 120.84,502.24 121.07,502.01 121.30,501.79 121.53,501.57 121.76,501.36 121.99,501.15 122.22,500.94 122.45,500.73 122.68,500.52 122.92,500.32 123.15,500.12 123.38,499.92 123.61,499.73 123.84,499.53 124.07,499.34 124.30,499.15 124.53,498.96 124.76,498.78 124.99,498.60 125.22,498.42 125.46,498.24 125.69,498.06 125.92,497.88 126.15,497.71 126.38,497.54 126.61,497.37 126.84,497.20 127.07,497.04 127.30,496.87 127.53,496.71 127.76,496.55 128.00,496.39 128.23,496.24 128.46,496.08 128.69,495.93 128.92,495.78 129.15,495.63 129.38,495.48 129.61,495.33 129.84,495.19 130.07,495.04 130.30,494.90 130.54,494.76 130.77,494.62 131.00,494.48 131.23,494.34 131.46,494.21 131.69,494.07 131.92,493.94 132.15,493.81 132.38,493.68 132.61,493.55 132.85,493.43 133.08,493.30 133.31,493.18 133.54,493.05 133.77,492.93 134.00,492.81 134.23,492.69 134.46,492.57 134.69,492.45 134.92,492.34 135.15,492.22 135.39,492.11 135.62,492.00 135.85,491.88 136.08,491.77 136.31,491.66 136.54,491.56 136.77,491.45 137.00,491.34 137.23,491.24 137.46,491.13 137.69,491.03 137.93,490.93 138.16,490.83 138.39,490.73 138.62,490.63 138.85,490.53 139.08,490.43 139.31,490.33 139.54,490.24 139.77,490.14 140.00,490.05 140.23,489.96 140.47,489.86 140.70,489.77 140.93,489.68 141.16,489.59 141.39,489.50 141.62,489.41 141.85,489.33 142.08,489.24 142.31,489.15 142.54,489.07 143.13,488.86 144.83,488.27 146.54,487.71 148.25,487.19 149.96,486.70 151.67,486.24 153.38,485.81 155.09,485.40 156.79,485.02 158.50,484.65 160.21,484.31 161.92,483.99 163.63,483.68 165.34,483.39 167.05,483.11 168.75,482.85 170.46,482.60 172.17,482.36 173.88,482.13 175.59,481.92 177.30,481.71 179.01,481.51 180.71,481.33 182.42,481.15 184.13,480.98 185.84,480.81 187.55,480.66 189.26,480.51 190.97,480.36 192.67,480.22 194.38,480.09 196.09,479.96 197.80,479.84 199.51,479.72 201.22,479.61 202.93,479.50 204.64,479.40 206.34,479.30 208.05,479.20 209.76,479.11 211.47,479.02 213.18,478.93 214.89,478.85 216.60,478.77 218.30,478.69 220.01,478.61 221.72,478.54 223.43,478.47 225.14,478.40 226.85,478.34 228.56,478.27 230.26,478.21 231.97,478.15 233.68,478.09 235.39,478.04 237.10,477.98 238.81,477.93 240.52,477.88 242.22,477.83 243.93,477.78 245.64,477.73 247.35,477.69 249.06,477.64 250.77,477.60 252.48,477.56 254.18,477.52 255.89,477.48 257.60,477.44 259.31,477.40 261.02,477.36 262.73,477.33 264.44,477.29 266.15,477.26 267.85,477.23 269.56,477.20 271.27,477.17 272.98,477.13 274.69,477.11 276.40,477.08 278.11,477.05 279.81,477.02 281.52,476.99 283.23,476.97 284.94,476.94 286.65,476.92 288.36,476.89 290.07,476.87 291.77,476.85 293.48,476.82 295.19,476.80 296.90,476.78 298.61,476.76 300.32,476.74 302.03,476.72 303.73,476.70 305.44,476.68 307.15,476.66 308.86,476.64 310.57,476.62 312.28,476.60 313.99,476.59 315.69,476.57 317.40,476.55 319.11,476.54 320.82,476.52 322.53,476.51 324.24,476.49 325.95,476.48 327.66,476.46 329.36,476.45 331.07,476.43 332.78,476.42 334.49,476.40 336.20,476.39 337.91,476.38 339.62,476.37 341.32,476.35 343.03,476.34 344.74,476.33 346.45,476.32 348.16,476.30 349.87,476.29 351.58,476.28 353.28,476.27 354.99,476.26 356.70,476.25 358.41,476.24 360.12,476.23 361.83,476.22 363.54,476.21 365.24,476.20 366.95,476.19 368.66,476.18 370.37,476.17 372.08,476.16 373.79,476.15 375.50,476.14 377.20,476.13 378.91,476.13 380.62,476.12 382.33,476.11 384.04,476.10 385.75,476.09 387.46,476.09 389.17,476.08 390.87,476.07 392.58,476.06 394.29,476.05 396.00,476.05 397.71,476.04 399.42,476.03 401.13,476.03 402.83,476.02 404.54,476.01 406.25,476.01 407.96,476.00 409.67,475.99 411.38,475.99 413.09,475.98 414.79,475.97 416.50,475.97 418.21,475.96 419.92,475.96 421.63,475.95 423.34,475.95 425.05,475.94 426.75,475.93 428.46,475.93 430.17,475.92 431.88,475.92 433.59,475.91 435.30,475.91 437.01,475.90 438.71,475.90 440.42,475.89 442.13,475.89 443.84,475.88 445.55,475.88 447.26,475.87 448.97,475.87 450.68,475.86 452.38,475.86 454.09,475.86 455.80,475.85 457.51,475.85 459.22,475.84 460.93,475.84 462.64,475.83 464.34,475.83 466.05,475.83 467.76,475.82 469.47,475.82 471.18,475.81 472.89,475.81 474.60,475.81 476.30,475.80 478.01,475.80 479.72,475.80 481.43,475.79 483.14,475.79 484.85,475.79 486.56,475.78 488.26,475.78 489.97,475.78 491.68,475.77 493.39,475.77 495.10,475.77 496.81,475.76 498.52,475.76 500.22,475.76 501.93,475.75 503.64,475.75 505.35,475.75 507.06,475.74 508.77,475.74 510.48,475.74 512.19,475.73 513.89,475.73 515.60,475.73 517.31,475.73 519.02,475.72 520.73,475.72 522.44,475.72 524.15,475.72 525.85,475.71 527.56,475.71 529.27,475.71 530.98,475.71 532.69,475.70 534.40,475.70 536.11,475.70 537.81,475.70 539.52,475.69 541.23,475.69 542.94,475.69 544.65,475.69 546.36,475.68 548.07,475.68 549.77,475.68 551.48,475.68 553.19,475.67 554.90,475.67 556.61,475.67 558.32,475.67 560.03,475.67 561.73,475.66 563.44,475.66 565.15,475.66 566.86,475.66 568.57,475.66 570.28,475.65 571.99,475.65 573.70,475.65 575.40,475.65 577.11,475.65 578.82,475.64 580.53,475.64 582.24,475.64 583.95,475.64 585.66,475.64 587.36,475.63 589.07,475.63 590.78,475.63 592.49,475.63 594.20,475.63 595.91,475.63 597.62,475.62 599.32,475.62 601.03,475.62 602.74,475.62 604.45,475.62 606.16,475.62 607.87,475.61 609.58,475.61 611.28,475.61 612.99,475.61 614.70,475.61 616.41,475.61 618.12,475.61 619.83,475.60 621.54,475.60 623.24,475.60 624.95,475.60 626.66,475.60 628.37,475.60 630.08,475.60 631.79,475.59 633.50,475.59 635.21,475.59 636.91,475.59 638.62,475.59 640.33,475.59 642.04,475.59 643.75,475.58 645.46,475.58 647.17,475.58 648.87,475.58 650.58,475.58 652.29,475.58 654.00,475.58" fill="none" stroke="#1400ff" stroke-width="4.05" stroke-linejoin="round" stroke-linecap="square" />
</g>
<path d="M72.8,459.0 V801.9 M683.0,459.0 V801.9 M72.3,459.5 H683.5 M72.3,801.4 H683.5" fill="none" stroke="#3a3a3a" stroke-width="1.0"/>
<line x1="72.80" y1="801.4" x2="72.80" y2="804.9" stroke="#3a3a3a" stroke-width="0.9"/>
<text class="s" x="72.80" y="824.90" font-family="Liberation Sans, sans-serif" font-size="22.0" text-anchor="middle" fill="#000" textLength="13.4" lengthAdjust="spacingAndGlyphs" >0</text>
<line x1="189.04" y1="801.4" x2="189.04" y2="804.9" stroke="#3a3a3a" stroke-width="0.9"/>
<text class="s" x="189.04" y="824.90" font-family="Liberation Sans, sans-serif" font-size="22.0" text-anchor="middle" fill="#000" textLength="40.3" lengthAdjust="spacingAndGlyphs" >100</text>
<line x1="305.28" y1="801.4" x2="305.28" y2="804.9" stroke="#3a3a3a" stroke-width="0.9"/>
<text class="s" x="305.28" y="824.90" font-family="Liberation Sans, sans-serif" font-size="22.0" text-anchor="middle" fill="#000" textLength="40.3" lengthAdjust="spacingAndGlyphs" >200</text>
<line x1="421.52" y1="801.4" x2="421.52" y2="804.9" stroke="#3a3a3a" stroke-width="0.9"/>
<text class="s" x="421.52" y="824.90" font-family="Liberation Sans, sans-serif" font-size="22.0" text-anchor="middle" fill="#000" textLength="40.3" lengthAdjust="spacingAndGlyphs" >300</text>
<line x1="537.76" y1="801.4" x2="537.76" y2="804.9" stroke="#3a3a3a" stroke-width="0.9"/>
<text class="s" x="537.76" y="824.90" font-family="Liberation Sans, sans-serif" font-size="22.0" text-anchor="middle" fill="#000" textLength="40.3" lengthAdjust="spacingAndGlyphs" >400</text>
<line x1="654.00" y1="801.4" x2="654.00" y2="804.9" stroke="#3a3a3a" stroke-width="0.9"/>
<text class="s" x="654.00" y="824.90" font-family="Liberation Sans, sans-serif" font-size="22.0" text-anchor="middle" fill="#000" textLength="40.3" lengthAdjust="spacingAndGlyphs" >500</text>
<line x1="69.3" y1="801.40" x2="72.8" y2="801.40" stroke="#3a3a3a" stroke-width="0.9"/>
<text class="s" x="64.80" y="809.30" font-family="Liberation Sans, sans-serif" font-size="22.0" text-anchor="end" fill="#000" textLength="33.4" lengthAdjust="spacingAndGlyphs" >0.0</text>
<line x1="69.3" y1="717.17" x2="72.8" y2="717.17" stroke="#3a3a3a" stroke-width="0.9"/>
<text class="s" x="64.80" y="725.07" font-family="Liberation Sans, sans-serif" font-size="22.0" text-anchor="end" fill="#000" textLength="33.4" lengthAdjust="spacingAndGlyphs" >0.5</text>
<line x1="69.3" y1="632.95" x2="72.8" y2="632.95" stroke="#3a3a3a" stroke-width="0.9"/>
<text class="s" x="64.80" y="640.85" font-family="Liberation Sans, sans-serif" font-size="22.0" text-anchor="end" fill="#000" textLength="33.4" lengthAdjust="spacingAndGlyphs" >1.0</text>
<line x1="69.3" y1="548.73" x2="72.8" y2="548.73" stroke="#3a3a3a" stroke-width="0.9"/>
<text class="s" x="64.80" y="556.62" font-family="Liberation Sans, sans-serif" font-size="22.0" text-anchor="end" fill="#000" textLength="33.4" lengthAdjust="spacingAndGlyphs" >1.5</text>
<line x1="69.3" y1="464.50" x2="72.8" y2="464.50" stroke="#3a3a3a" stroke-width="0.9"/>
<text class="s" x="64.80" y="472.40" font-family="Liberation Sans, sans-serif" font-size="22.0" text-anchor="end" fill="#000" textLength="33.4" lengthAdjust="spacingAndGlyphs" >2.0</text>
<g transform="translate(22.7,695.0) rotate(-90)">
<text class="s" x="0" y="0" font-family="Liberation Sans, sans-serif" font-size="23.0" fill="#000" font-style="italic" textLength="17" lengthAdjust="spacingAndGlyphs">σ</text>
<text class="s" x="19.9" y="-1.4" font-family="Liberation Sans, sans-serif" font-size="21.8" fill="#000">(</text>
<text class="s" x="30.4" y="0" font-family="Liberation Sans, sans-serif" font-size="23.0" fill="#000" textLength="34.8" lengthAdjust="spacingAndGlyphs">nW</text>
<circle cx="75.0" cy="-8.0" r="1.35" fill="#000"/>
<text class="s" x="84.4" y="0" font-family="Liberation Sans, sans-serif" font-size="23.0" fill="#000" textLength="14.6" lengthAdjust="spacingAndGlyphs">K</text>
<text class="s" x="100.0" y="-9.0" font-family="Liberation Sans, sans-serif" font-size="16.1" fill="#000" textLength="21.4" lengthAdjust="spacingAndGlyphs">−1</text>
<text class="s" x="123.6" y="-1.4" font-family="Liberation Sans, sans-serif" font-size="21.8" fill="#000">)</text>
</g>
<text class="s" x="351.2" y="851.0" font-family="Liberation Sans, sans-serif" font-size="23.0" fill="#000" font-style="italic" textLength="14.6" lengthAdjust="spacingAndGlyphs">T</text>
<text class="s" x="372.6" y="849.6" font-family="Liberation Sans, sans-serif" font-size="21.8" fill="#000">(</text>
<text class="s" x="381.6" y="851.0" font-family="Liberation Sans, sans-serif" font-size="23.0" fill="#000" textLength="15.4" lengthAdjust="spacingAndGlyphs">K</text>
<text class="s" x="398.3" y="849.6" font-family="Liberation Sans, sans-serif" font-size="21.8" fill="#000">)</text>
<rect x="84.2" y="713.1" width="132.7" height="76.8" rx="3.4" fill="#fff" fill-opacity="0.8" stroke="#d4d4d4" stroke-width="1"/>
<line x1="92.1" y1="732.8" x2="142.8" y2="732.8" stroke="#ff1a0a" stroke-width="3.8"/>
<line x1="92.1" y1="767.4" x2="142.8" y2="767.4" stroke="#1400ff" stroke-width="3.8"/>
<text class="s" x="159.6" y="740.7" font-family="Liberation Sans, sans-serif" font-size="23.0" fill="#000"><tspan font-style="italic" textLength="16.4" lengthAdjust="spacingAndGlyphs">C</tspan><tspan x="177.4" dy="3.4" font-size="16.1" textLength="20.4" lengthAdjust="spacingAndGlyphs">10</tspan><tspan x="197.8" font-size="16.1" font-style="italic" textLength="9.0" lengthAdjust="spacingAndGlyphs">v</tspan></text>
<text class="s" x="159.6" y="775.6" font-family="Liberation Sans, sans-serif" font-size="23.0" fill="#000"><tspan font-style="italic" textLength="16.4" lengthAdjust="spacingAndGlyphs">C</tspan><tspan x="177.4" dy="3.4" font-size="16.1" textLength="9.8" lengthAdjust="spacingAndGlyphs">1</tspan></text>
</svg>
</body></html>
